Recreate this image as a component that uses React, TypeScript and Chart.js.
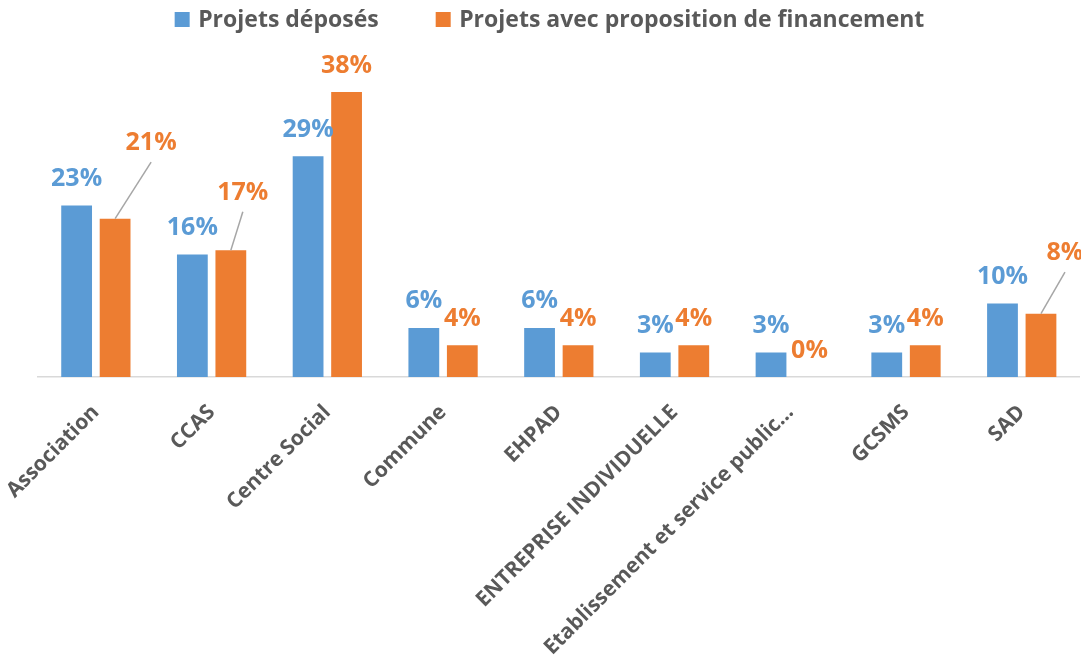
import React, { useEffect, useRef } from "react";
import { Chart, registerables } from "chart.js";

Chart.register(...registerables);

const categories = [
  "Association",
  "CCAS",
  "Centre Social",
  "Commune",
  "EHPAD",
  "ENTREPRISE INDIVIDUELLE",
  "Etablissement et service public…",
  "GCSMS",
  "SAD",
];
const seriesNames = ["Projets déposés", "Projets avec proposition de financement"];
const deposes = [22.58, 16.13, 29.03, 6.45, 6.45, 3.23, 3.23, 3.23, 9.68];
const financement = [20.83, 16.67, 37.5, 4.17, 4.17, 4.17, 0, 4.17, 8.33];
const seriesColors = ["#5B9BD5", "#ED7D31"];

// manually moved data labels (dataset index -> category index -> [dx, dy])
const movedLabels: Record<number, Record<number, [number, number]>> = {
  1: { 0: [36, -49], 1: [12, -31], 8: [24, -34] },
};

const FONT = "'Open Sans', 'DejaVu Sans', sans-serif";
const TEXT_GRAY = "#595959";

const valueLabelPlugin = {
  id: "valueLabels",
  afterDatasetsDraw(chart: any) {
    const ctx = chart.ctx as CanvasRenderingContext2D;
    ctx.save();
    ctx.font = `bold 25px ${FONT}`;
    ctx.textAlign = "center";
    ctx.textBaseline = "alphabetic";
    chart.data.datasets.forEach((ds: any, di: number) => {
      const meta = chart.getDatasetMeta(di);
      meta.data.forEach((el: any, i: number) => {
        const v = ds.data[i] as number;
        const off = movedLabels[di]?.[i];
        const x = el.x + (off ? off[0] : 0);
        const y = el.y - 19.5 + (off ? off[1] : 0);
        if (off) {
          ctx.strokeStyle = "#A6A6A6";
          ctx.lineWidth = 1.5;
          ctx.beginPath();
          ctx.moveTo(x, y + 12);
          ctx.lineTo(el.x, el.y);
          ctx.stroke();
        }
        ctx.fillStyle = ds.backgroundColor;
        ctx.fillText(`${Math.round(v)}%`, x, y);
      });
    });
    ctx.restore();
  },
};

const legendPlugin = {
  id: "topLegend",
  afterDraw(chart: any) {
    const ctx = chart.ctx as CanvasRenderingContext2D;
    ctx.save();
    ctx.font = `bold 23px ${FONT}`;
    ctx.textBaseline = "alphabetic";
    ctx.textAlign = "left";
    const box = 15;
    const gapText = 8.5;
    const gapItems = 57;
    const items = chart.data.datasets.map((ds: any) => ({
      label: ds.label,
      color: ds.backgroundColor,
      w: ctx.measureText(ds.label).width,
    }));
    const total =
      items.reduce((s: number, it: any) => s + box + gapText + it.w, 0) +
      gapItems * (items.length - 1);
    let x = 549.5 - total / 2;
    items.forEach((it: any) => {
      ctx.fillStyle = it.color;
      ctx.fillRect(x, 12, box, box);
      ctx.fillStyle = TEXT_GRAY;
      ctx.fillText(it.label, x + box + gapText, 27);
      x += box + gapText + it.w + gapItems;
    });
    ctx.restore();
  },
};

export default function App() {
  const ref = useRef<HTMLCanvasElement | null>(null);
  useEffect(() => {
    if (!ref.current) return;
    const chart = new Chart(ref.current, {
      type: "bar",
      data: {
        labels: categories,
        datasets: [
          {
            label: seriesNames[0],
            data: deposes,
            backgroundColor: seriesColors[0],
            categoryPercentage: 0.665,
            barPercentage: 0.8,
          },
          {
            label: seriesNames[1],
            data: financement,
            backgroundColor: seriesColors[1],
            categoryPercentage: 0.665,
            barPercentage: 0.8,
          },
        ],
      },
      options: {
        animation: false,
        responsive: true,
        maintainAspectRatio: false,
        layout: { padding: { top: 73, left: 38, right: 1.4, bottom: 0 } },
        plugins: {
          legend: { display: false },
          tooltip: { enabled: false },
        },
        scales: {
          x: {
            grid: { display: false },
            border: { color: "#D9D9D9", width: 1.5 },
            ticks: {
              color: TEXT_GRAY,
              font: { family: FONT, weight: "bold", size: 21 },
              minRotation: 45,
              maxRotation: 45,
              autoSkip: false,
              padding: 15,
            },
            afterFit(scale: any) {
              scale.height = 278;
              scale.paddingLeft = 0;
              scale.paddingRight = 0;
            },
          },
          y: {
            display: false,
            min: 0,
            max: 40,
          },
        },
      },
      plugins: [valueLabelPlugin, legendPlugin],
    });
    return () => chart.destroy();
  }, []);
  return (
    <div
      style={{
        position: "fixed",
        left: 0,
        top: 0,
        width: 1081,
        height: 655,
        background: "#fff",
      }}
    >
      <canvas ref={ref} />
    </div>
  );
}
